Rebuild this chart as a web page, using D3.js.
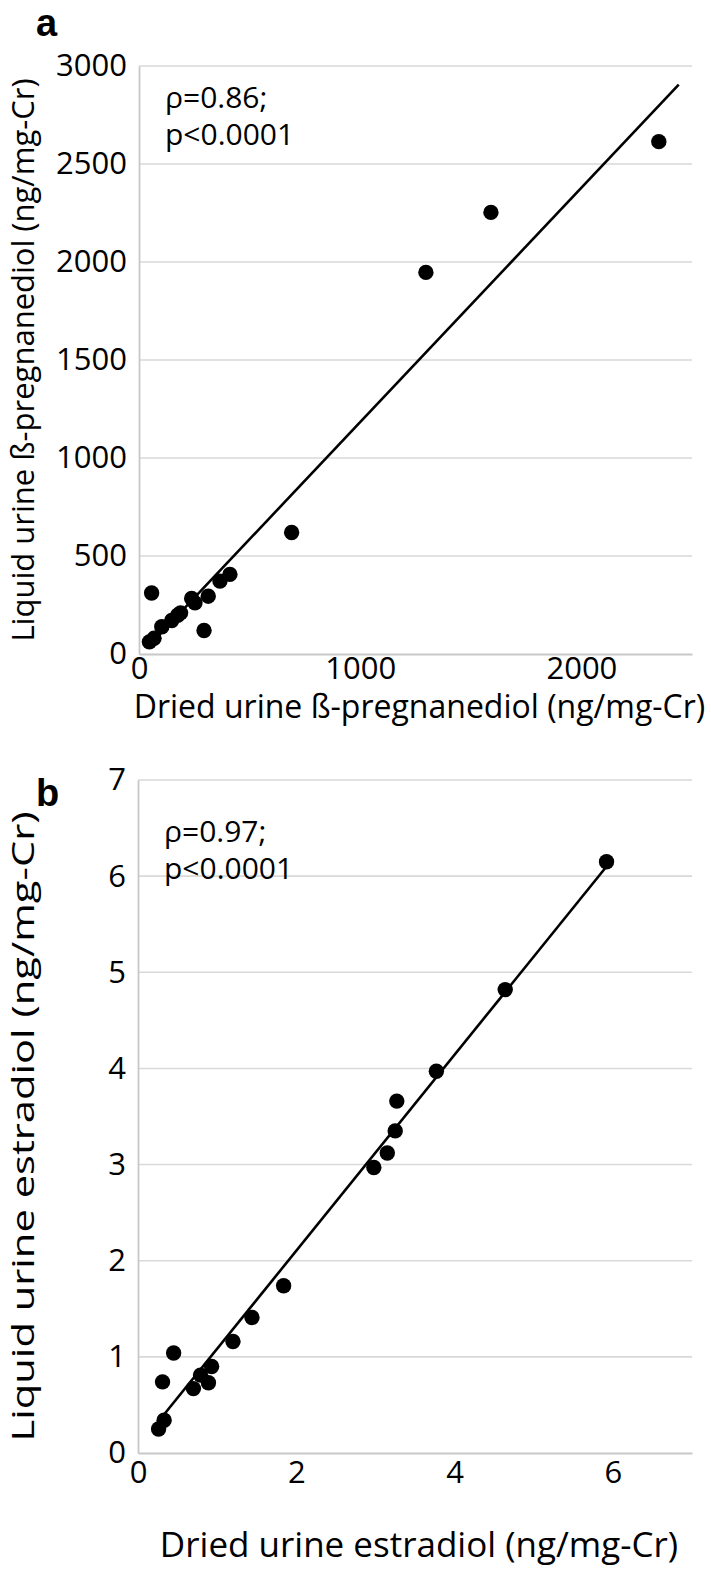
<!DOCTYPE html>
<html><head><meta charset="utf-8">
<script src="https://cdn.jsdelivr.net/npm/d3@7"></script>
<style>body{margin:0;background:#fff}</style>
</head><body>
<svg id="chart" width="711" height="1570" xmlns="http://www.w3.org/2000/svg"></svg>
<script>
// ---------- Panel a: β-pregnanediol ----------
const aDried  = [47, 68, 57, 103, 148, 175, 188, 238, 253, 313, 294, 366, 411, 690, 1297, 1591, 2350];
const aLiquid = [62, 80, 311, 139, 171, 198, 210, 283, 261, 295, 120, 372, 406, 620, 1947, 2253, 2614];
const aTrendX = [47, 2440];
const aTrendY = [44, 2905];
const aXTicks = [0, 1000, 2000];
const aYTicks = [0, 500, 1000, 1500, 2000, 2500, 3000];
const aXDomain = [0, 2500];
const aYDomain = [0, 3000];
const aLetter = "a";
const aStats = ["ρ=0.86;", "p<0.0001"];
const aXTitle = "Dried urine ß-pregnanediol (ng/mg-Cr)";
const aYTitle = "Liquid urine ß-pregnanediol (ng/mg-Cr)";

// ---------- Panel b: estradiol ----------
const bDried  = [0.26, 0.33, 0.31, 0.45, 0.70, 0.79, 0.89, 0.93, 1.20, 1.44, 1.84, 2.98, 3.15, 3.25, 3.27, 3.77, 4.64, 5.92];
const bLiquid = [0.25, 0.34, 0.74, 1.04, 0.67, 0.81, 0.73, 0.90, 1.16, 1.41, 1.74, 2.97, 3.12, 3.35, 3.66, 3.97, 4.82, 6.15];
const bTrendX = [0.26, 5.92];
const bTrendY = [0.33, 6.10];
const bXTicks = [0, 2, 4, 6];
const bYTicks = [0, 1, 2, 3, 4, 5, 6, 7];
const bXDomain = [0, 7];
const bYDomain = [0, 7];
const bLetter = "b";
const bStats = ["ρ=0.97;", "p<0.0001"];
const bXTitle = "Dried urine estradiol (ng/mg-Cr)";
const bYTitle = "Liquid urine estradiol (ng/mg-Cr)";

const FONT = "'Open Sans', 'Noto Sans', sans-serif";
const svg = d3.select("#chart");

function drawPanel(o) {
  const x = d3.scaleLinear().domain(o.xDomain).range([o.left, o.right]);
  const y = d3.scaleLinear().domain(o.yDomain).range([o.bottom, o.top]);
  const g = svg.append("g");

  // horizontal gridlines
  g.append("g").selectAll("line")
    .data(o.yTicks.filter(d => d > 0))
    .join("line")
    .attr("x1", o.left).attr("x2", o.right)
    .attr("y1", d => y(d)).attr("y2", d => y(d))
    .attr("stroke", "#d9d9d9").attr("stroke-width", 1.6);

  // y axis
  const gy = g.append("g").attr("transform", `translate(${o.left},0)`)
    .call(d3.axisLeft(y).tickValues(o.yTicks).tickSize(0).tickSizeOuter(0).tickPadding(12).tickFormat(d3.format("d")));
  gy.select(".domain").attr("stroke", "#c8c8c8").attr("stroke-width", 1.8);
  gy.selectAll("text").attr("font-family", FONT).attr("font-size", o.tickFont).attr("fill", "#000");

  // x axis
  const gx = g.append("g").attr("transform", `translate(0,${o.bottom})`)
    .call(d3.axisBottom(x).tickValues(o.xTicks).tickSize(0).tickSizeOuter(0).tickPadding(o.xTickPad).tickFormat(d3.format("d")));
  gx.select(".domain").attr("stroke", "#c8c8c8").attr("stroke-width", 1.8);
  gx.selectAll("text").attr("font-family", FONT).attr("font-size", o.tickFont).attr("fill", "#000");

  // trend line
  const pts = o.trendX.map((v, i) => [v, o.trendY[i]]);
  g.append("path")
    .attr("d", d3.line().x(d => x(d[0])).y(d => y(d[1]))(pts))
    .attr("stroke", "#000").attr("stroke-width", 2.6).attr("fill", "none");

  // points
  g.append("g").selectAll("circle")
    .data(o.xs.map((v, i) => [v, o.ys[i]]))
    .join("circle")
    .attr("cx", d => x(d[0])).attr("cy", d => y(d[1]))
    .attr("r", 7.7).attr("fill", "#000");

  // stats annotation
  g.append("g").selectAll("text")
    .data(o.stats)
    .join("text")
    .attr("x", o.left + 26)
    .attr("y", (d, i) => o.statsY + i * o.statsGap)
    .attr("font-family", FONT).attr("font-size", o.statsFont).attr("fill", "#000")
    .text(d => d);

  // panel letter
  g.append("text")
    .attr("x", 36).attr("y", o.letterY)
    .attr("font-family", "'Liberation Sans', Arial, sans-serif")
    .attr("font-weight", "bold").attr("font-size", 38).attr("fill", "#000")
    .text(o.letter);

  // axis titles
  g.append("text")
    .attr("x", (o.left + o.right) / 2 + 4).attr("y", o.xTitleY)
    .attr("text-anchor", "middle")
    .attr("font-family", FONT).attr("font-size", o.xTitleFont).attr("fill", "#000")
    .text(o.xTitle);
  const yt = g.append("text")
    .attr("transform", `translate(${o.yTitleX},${(o.top + o.bottom) / 2 + o.yTitleShift}) rotate(-90)`)
    .attr("text-anchor", "middle").attr("dominant-baseline", "central")
    .attr("font-family", FONT).attr("font-size", o.yTitleFont).attr("fill", "#000")
    .text(o.yTitle);
  if (o.yTitleLen) yt.attr("textLength", o.yTitleLen).attr("lengthAdjust", "spacingAndGlyphs");
}

drawPanel({
  xs: aDried, ys: aLiquid, trendX: aTrendX, trendY: aTrendY,
  xTicks: aXTicks, yTicks: aYTicks, xDomain: aXDomain, yDomain: aYDomain,
  letter: aLetter, stats: aStats, xTitle: aXTitle, yTitle: aYTitle,
  left: 139, right: 692, top: 66, bottom: 654,
  tickFont: 31, statsFont: 30, xTitleFont: 32, yTitleFont: 31, yTitleX: 22, yTitleShift: 0,
  xTickPad: 3, statsY: 108, statsGap: 37, letterY: 36, xTitleY: 718
});

drawPanel({
  xs: bDried, ys: bLiquid, trendX: bTrendX, trendY: bTrendY,
  xTicks: bXTicks, yTicks: bYTicks, xDomain: bXDomain, yDomain: bYDomain,
  letter: bLetter, stats: bStats, xTitle: bXTitle, yTitle: bYTitle,
  left: 138, right: 692, top: 780, bottom: 1453,
  tickFont: 31, statsFont: 30, xTitleFont: 35, yTitleFont: 31, yTitleX: 22, yTitleShift: 10, yTitleLen: 630,
  xTickPad: 8, statsY: 842, statsGap: 37, letterY: 806, xTitleY: 1557
});
</script>
</body></html>
